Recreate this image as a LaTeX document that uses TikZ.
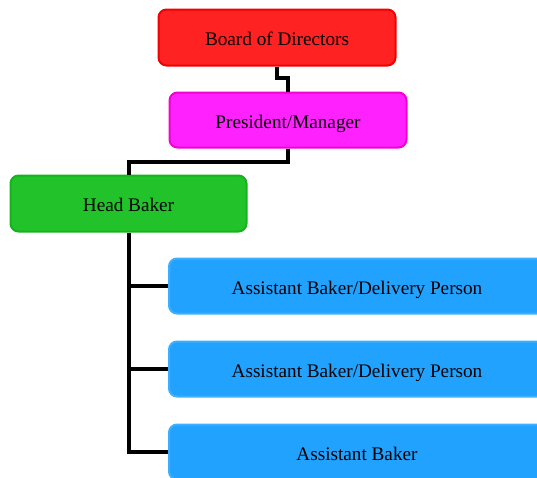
\documentclass[tikz,border=0pt]{standalone}
\usepackage{fontspec}
\setmainfont{Liberation Serif}
\definecolor{bfill}{RGB}{255,34,34}\definecolor{bdraw}{RGB}{245,0,0}
\definecolor{pfill}{RGB}{255,34,255}\definecolor{pdraw}{RGB}{245,0,210}
\definecolor{hfill}{RGB}{34,194,42}\definecolor{hdraw}{RGB}{22,180,28}
\definecolor{afill}{RGB}{34,162,255}\definecolor{adraw}{RGB}{60,175,255}
\begin{document}
\begin{tikzpicture}[x=1pt,y=-1pt,
  box/.style={rounded corners=8pt,line width=2pt,inner sep=0pt,text height=17pt,text depth=1pt,font=\fontsize{19.2}{21}\selectfont},
  link/.style={line width=4pt,line join=miter}]
\useasboundingbox (0,0) rectangle (537,477);
\clip (0,0) rectangle (537,477);
\node[box,fill=bfill,draw=bdraw,minimum width=237pt,minimum height=56pt] (board) at (277,37.5) {Board of Directors};
\node[box,fill=pfill,draw=pdraw,minimum width=237pt,minimum height=55pt] (pres) at (288,120) {President/Manager};
\node[box,fill=hfill,draw=hdraw,minimum width=236pt,minimum height=56pt] (head) at (128.5,203.5) {Head Baker};
\node[box,fill=afill,draw=adraw,minimum width=376pt,minimum height=55pt] (a1) at (357,286) {Assistant Baker/Delivery Person};
\node[box,fill=afill,draw=adraw,minimum width=376pt,minimum height=55pt] (a2) at (357,369) {Assistant Baker/Delivery Person};
\node[box,fill=afill,draw=adraw,minimum width=376pt,minimum height=55pt] (a3) at (357,452) {Assistant Baker};
\draw[link] (board.south) -- ++(0,11) -| (pres.north);
\draw[link] (pres.south) -- ++(0,13) -| (head.north);
\draw[link] (head.south) |- (a3.west);
\draw[link] (a1.west) -- (a1.west -| head.south);
\draw[link] (a2.west) -- (a2.west -| head.south);
\end{tikzpicture}
\end{document}
